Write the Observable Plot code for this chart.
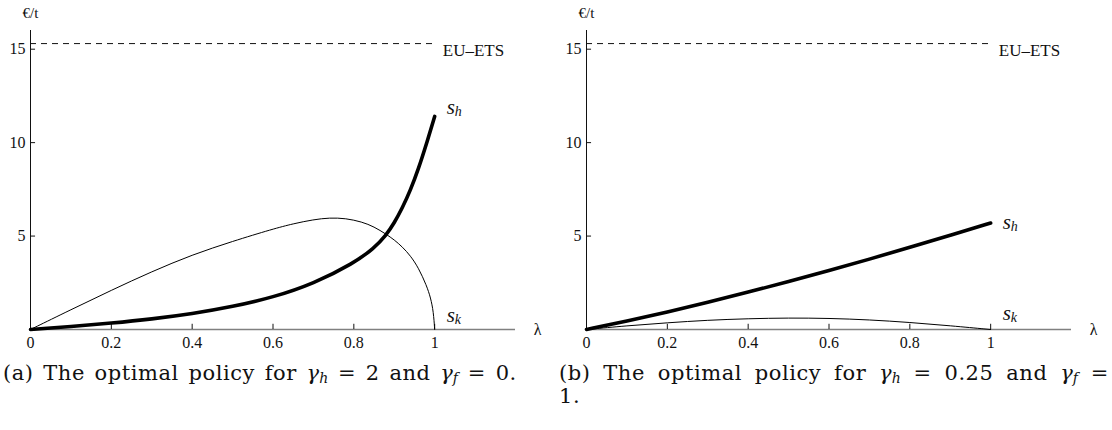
<!DOCTYPE html>
<html>
<head>
<meta charset="utf-8">
<script src="https://cdn.jsdelivr.net/npm/d3@7"></script>
<script src="https://cdn.jsdelivr.net/npm/@observablehq/plot@0.6"></script>
<style>
  html, body { margin: 0; padding: 0; background: #fff; }
  #wrap { display: flex; width: 1112px; }
  .panel { width: 556px; }
  .panel svg { display: block; overflow: visible; }
  .panel svg g[aria-label$="tick label"] { font-size: 16px; font-family: "Liberation Serif", serif; }
  .cap { font-family: "DejaVu Serif", serif; font-size: 21px; line-height: 23px; color: #111; padding-left: 3px; margin-top: 7px; letter-spacing: 0.55px; word-spacing: 2.5px; white-space: nowrap; }
  .cap i { font-style: italic; letter-spacing: 0; }
  .cap sub { font-size: 14px; vertical-align: -3px; line-height: 0; letter-spacing: 0; }
  .capb { width: 550px; }
  .capb .l1 { text-align: justify; text-align-last: justify; white-space: normal; }
</style>
</head>
<body>
<div id="wrap">
  <div class="panel" id="pa"></div>
  <div class="panel" id="pb"></div>
</div>
<script>
// ---- data ----
const xTicks = [0, 0.2, 0.4, 0.6, 0.8, 1];
const yTicks = [5, 10, 15];
const euEts = 15.3;

// Panel (a): gamma_h = 2, gamma_f = 0
const lamA_h = [0, 0.1, 0.2, 0.3, 0.4, 0.5, 0.6, 0.7, 0.8, 0.85, 0.88, 0.9, 0.92, 0.94, 0.96, 0.98, 1];
const shA    = [0, 0.15, 0.34, 0.56, 0.84, 1.22, 1.72, 2.45, 3.55, 4.35, 5.05, 5.7, 6.5, 7.45, 8.6, 9.95, 11.4];
const lamA_k = [0, 0.1, 0.2, 0.3, 0.4, 0.5, 0.6, 0.65, 0.7, 0.74, 0.78, 0.82, 0.85, 0.88, 0.9, 0.92, 0.94, 0.96, 0.98, 0.99, 0.997, 1];
const skA    = [0, 1.06, 2.1, 3.1, 4.0, 4.72, 5.38, 5.66, 5.88, 5.98, 5.95, 5.76, 5.5, 5.1, 4.8, 4.42, 3.95, 3.3, 2.35, 1.7, 0.95, 0];

// Panel (b): gamma_h = 0.25, gamma_f = 1
const lamB   = [0, 0.1, 0.2, 0.3, 0.4, 0.5, 0.6, 0.7, 0.8, 0.9, 1];
const shB    = [0, 0.45, 0.93, 1.45, 2.0, 2.56, 3.15, 3.76, 4.4, 5.04, 5.7];
const skB    = [0, 0.2, 0.36, 0.5, 0.58, 0.62, 0.6, 0.52, 0.38, 0.2, 0];

const FONT = "Liberation Serif";

function panel(lamH, sh, lamK, sk, labels) {
  const hData = lamH.map((x, i) => ({x, y: sh[i]}));
  const kData = lamK.map((x, i) => ({x, y: sk[i]}));
  const t = {fontFamily: FONT};
  return Plot.plot({
    width: 556,
    height: 355,
    marginLeft: 30,
    marginRight: 41,
    marginTop: 30,
    marginBottom: 26,
    style: {fontFamily: FONT, fontSize: "16px", background: "white", color: "#111"},
    x: {domain: [0, 1.2]},
    y: {domain: [0, 16]},
    marks: [
      Plot.axisX({ticks: xTicks, tickSize: 0, tickPadding: 7, label: null, fontSize: 16, fontFamily: FONT, tickFormat: d => String(d)}),
      Plot.axisY({ticks: yTicks, tickSize: 0, tickPadding: 5, label: null, fontSize: 16, fontFamily: FONT}),
      Plot.ruleY([0], {x1: 0, x2: 1.2, stroke: "#808080", strokeWidth: 1.6}),
      Plot.ruleX([0], {y1: 0, y2: 16, stroke: "#111", strokeWidth: 1}),
      Plot.ruleX(xTicks.filter(d => d > 0), {x: d => d, y1: 0, y2: 0.28, stroke: "#111", strokeWidth: 1}),
      Plot.ruleY(yTicks, {y: d => d, x1: 0, x2: 0.0125, stroke: "#111", strokeWidth: 1}),
      Plot.ruleY([euEts], {x1: 0, x2: 1, stroke: "#111", strokeWidth: 1, strokeDasharray: "6,5"}),
      Plot.line(kData, {x: "x", y: "y", stroke: "#000", strokeWidth: 1, curve: "basis"}),
      Plot.line(hData, {x: "x", y: "y", stroke: "#000", strokeWidth: 3.6, curve: "basis"}),
      Plot.text(["EU–ETS"], {...t, x: 1.02, y: 14.95, text: d => d, textAnchor: "start", fontSize: 17}),
      Plot.text(["€/t"], {...t, x: 0, y: 16.9, text: d => d, fontSize: 15}),
      Plot.text(["λ"], {...t, x: 1.255, y: 0, text: d => d, fontSize: 16}),
      Plot.text(["s"], {...t, x: labels.hx, y: labels.hy, text: d => d, textAnchor: "start", fontStyle: "italic", fontSize: 21}),
      Plot.text(["h"], {...t, x: labels.hx, y: labels.hy, dx: 8, dy: 4, text: d => d, textAnchor: "start", fontStyle: "italic", fontSize: 14}),
      Plot.text(["s"], {...t, x: labels.kx, y: labels.ky, text: d => d, textAnchor: "start", fontStyle: "italic", fontSize: 21}),
      Plot.text(["k"], {...t, x: labels.kx, y: labels.ky, dx: 8, dy: 4, text: d => d, textAnchor: "start", fontStyle: "italic", fontSize: 14})
    ]
  });
}

const capA = document.createElement("div");
capA.className = "cap";
capA.innerHTML = "(a) The optimal policy for <i>γ</i><sub><i>h</i></sub> = 2 and <i>γ</i><sub><i>f</i></sub> = 0.";
const capB = document.createElement("div");
capB.className = "cap capb";
capB.innerHTML = "<div class='l1'>(b) The optimal policy for <i>γ</i><sub><i>h</i></sub> = 0.25 and <i>γ</i><sub><i>f</i></sub> =</div><div>1.</div>";

const pa = document.getElementById("pa");
pa.appendChild(panel(lamA_h, shA, lamA_k, skA, {hx: 1.03, hy: 11.9, kx: 1.03, ky: 0.75}));
pa.appendChild(capA);
const pb = document.getElementById("pb");
pb.appendChild(panel(lamB, shB, lamB, skB, {hx: 1.03, hy: 5.75, kx: 1.03, ky: 0.85}));
pb.appendChild(capB);
</script>
</body>
</html>
